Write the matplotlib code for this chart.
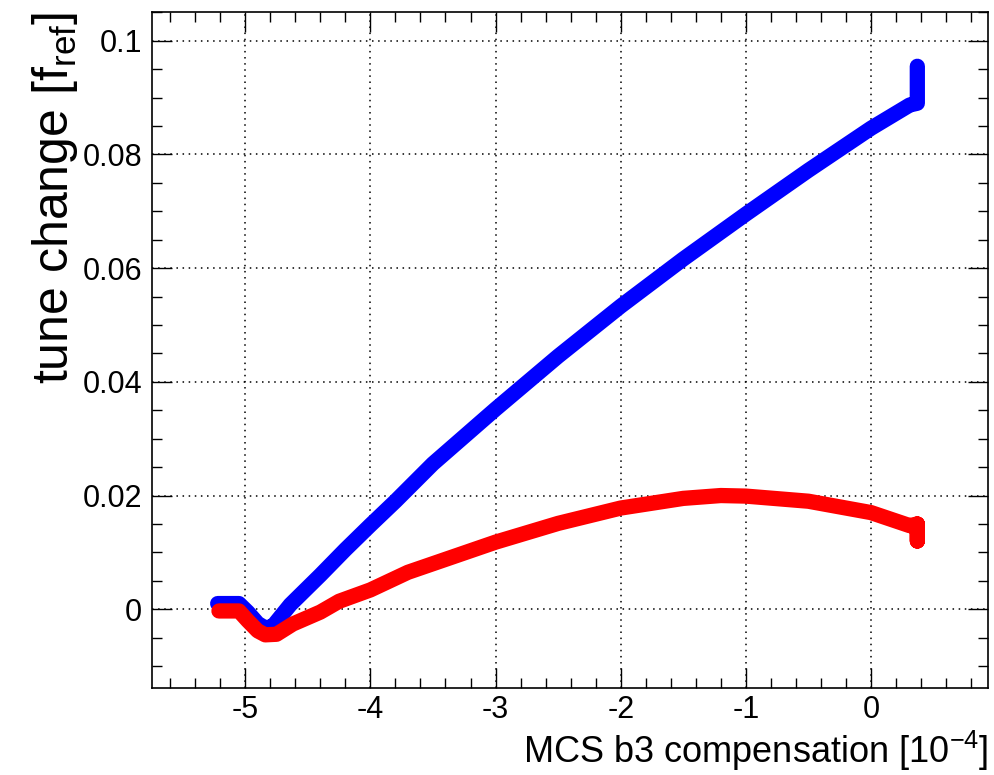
import matplotlib
matplotlib.use("Agg")
import matplotlib.pyplot as plt
from matplotlib.ticker import MultipleLocator, FuncFormatter

plt.rcParams['font.family'] = ['Liberation Sans', 'DejaVu Sans']
plt.rcParams['mathtext.fontset'] = 'custom'
plt.rcParams['mathtext.rm'] = 'Liberation Sans'
plt.rcParams['mathtext.it'] = 'Liberation Sans'
plt.rcParams['axes.unicode_minus'] = False

# tune change vs. MCS b3 compensation, two planes
blue_x = [-5.22, -5.05, -4.98, -4.90, -4.84, -4.78, -4.64, -4.40, -4.20, -4.00,
          -3.80, -3.50, -3.00, -2.50, -2.00, -1.50, -1.00, -0.50, 0.00, 0.31,
          0.37, 0.37]
blue_y = [0.0010, 0.0010, -0.0005, -0.0025, -0.0033, -0.0030, 0.0008, 0.0060,
          0.0105, 0.0148, 0.0190, 0.0256, 0.0352, 0.0445, 0.0533, 0.0616,
          0.0695, 0.0772, 0.0846, 0.0887, 0.0890, 0.0955]

red_x = [-5.21, -5.05, -4.98, -4.90, -4.84, -4.75, -4.62, -4.40, -4.25, -4.00,
         -3.70, -3.00, -2.50, -2.00, -1.50, -1.20, -1.00, -0.50, 0.00, 0.31,
         0.37, 0.37, 0.37]
red_y = [-0.0003, -0.0003, -0.0020, -0.0038, -0.0045, -0.0044, -0.0026, -0.0005,
         0.0014, 0.0034, 0.0065, 0.0118, 0.0151, 0.0178, 0.0195, 0.0200, 0.0199,
         0.0190, 0.0170, 0.0147, 0.0150, 0.0120, 0.0150]

fig = plt.figure(figsize=(9.94, 7.75), dpi=100)
ax = fig.add_axes([0.1529, 0.1119, 0.8411, 0.8730])

ax.plot(blue_x, blue_y, color='#0000ff', lw=11,
        solid_capstyle='round', solid_joinstyle='round', zorder=3)
ax.plot(red_x, red_y, color='#ff0000', lw=11,
        solid_capstyle='round', solid_joinstyle='round', zorder=4)

ax.set_xlim(-5.745, 0.935)
ax.set_ylim(-0.0139, 0.1051)

ax.xaxis.set_major_locator(MultipleLocator(1))
ax.xaxis.set_minor_locator(MultipleLocator(0.2))
ax.yaxis.set_major_locator(MultipleLocator(0.02))
ax.yaxis.set_minor_locator(MultipleLocator(0.005))
ax.yaxis.set_major_formatter(FuncFormatter(lambda v, p: '%g' % round(v, 4)))
ax.xaxis.set_major_formatter(FuncFormatter(lambda v, p: '%g' % round(v, 4)))

ax.tick_params(which='both', direction='in', top=True, right=True,
               width=1.0, labelsize=22, color='black')
ax.tick_params(which='major', length=14.5, pad=7)
ax.tick_params(axis='x', which='major', pad=5)
ax.tick_params(which='minor', length=7.5)

ax.grid(True, which='major', color='black', linestyle=(0, (1, 3)), lw=1.1)
for s in ax.spines.values():
    s.set_linewidth(1.2)

ax.set_xlabel(r'MCS b3 compensation [10$^{\mathregular{-4}}$]', fontsize=26,
              loc='right')
ax.xaxis.set_label_coords(1.0, -0.06)
ax.set_ylabel(r'tune change [f$_{\mathregular{ref}}$]', fontsize=36, loc='top')
ax.yaxis.set_label_coords(-0.086, 1.0)

fig.savefig('out.png', dpi=100, facecolor='white')
